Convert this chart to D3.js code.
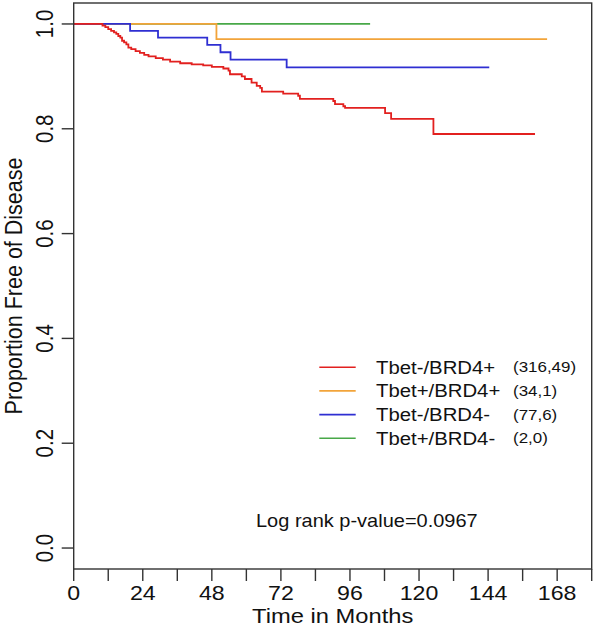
<!DOCTYPE html>
<html><head><meta charset="utf-8">
<script src="https://cdn.jsdelivr.net/npm/d3@7"></script>
<style>html,body{margin:0;padding:0;background:#fff;}svg{display:block;}</style>
</head><body>
<script>
// ---- data ----
const groups = ["Tbet-/BRD4+", "Tbet+/BRD4+", "Tbet-/BRD4-", "Tbet+/BRD4-"];
const counts = ["(316,49)", "(34,1)", "(77,6)", "(2,0)"];
const colors = ["#E2201F", "#F2A43A", "#2F2FD2", "#48A848"];
// step curves: [month, survival after step]; last entry = end of follow-up
const redSteps = [[0,1],[10,0.997],[11,0.994],[12,0.990],[13,0.987],[14,0.984],[14.8,0.981],[15.5,0.977],[16.2,0.974],[16.8,0.968],[17.5,0.965],[18.3,0.961],[19,0.955],[20,0.952],[21.5,0.948],[23,0.945],[24.5,0.941],[26,0.938],[28.5,0.935],[31,0.932],[33.5,0.928],[37,0.925],[41,0.923],[45,0.921],[48,0.918],[52,0.915],[53.8,0.911],[54.3,0.904],[58.4,0.900],[59.5,0.895],[61.8,0.888],[63.6,0.882],[64.8,0.878],[65.4,0.871],[72.8,0.867],[78,0.863],[78.6,0.857],[90.2,0.853],[90.8,0.847],[93.7,0.843],[94.3,0.840],[108.2,0.830],[110.3,0.819],[125,0.790],[160.3,0.790]];
const orangeSteps = [[0,1],[49.6,0.971],[164.5,0.971]];
const blueSteps = [[0,1],[19.6,0.987],[29.3,0.974],[46.4,0.960],[51,0.946],[54.5,0.932],[74,0.917],[144.4,0.917]];
const greenSteps = [[0,1],[103,1]];
const xTicks = d3.range(0, 181, 12);
const xLabels = [0,24,48,72,96,120,144,168];
const yTicks = [0,0.2,0.4,0.6,0.8,1.0];
const pText = "Log rank p-value=0.0967";

const W = 596, H = 629;
const L = 73.7, R = 591.7, T = 3, B = 569;
const SX = 1.13; // horizontal stretch of the reference text
const font = "'Liberation Sans', Arial, Helvetica, sans-serif";

const svg = d3.select("body").append("svg").attr("width", W).attr("height", H);
const x = d3.scaleLinear().domain([0,180]).range([L,R]);
const y = d3.scaleLinear().domain([-0.04,1.04]).range([B,T]);

function txt(g, s, px, py, size, anchor, rot) {
  const t = g.append("g").attr("transform", `translate(${px},${py}) scale(${SX},1)` + (rot ? " rotate(-90)" : ""));
  t.append("text").text(s).attr("font-family", font).attr("font-size", size)
    .attr("text-anchor", anchor).attr("fill", "#111");
  return t;
}

// curves
const line = d3.line().x(d => x(d[0])).y(d => y(d[1])).curve(d3.curveStepAfter);
const all = [redSteps, orangeSteps, blueSteps, greenSteps];
[3,1,2,0].forEach(i => {
  svg.append("path").attr("d", line(all[i])).attr("fill", "none")
    .attr("stroke", colors[i]).attr("stroke-width", 1.8);
});

// box
svg.append("rect").attr("x", L).attr("y", T).attr("width", R-L).attr("height", B-T)
  .attr("fill", "none").attr("stroke", "#333").attr("stroke-width", 1.4);

// x axis
const gx = svg.append("g");
gx.selectAll("line").data(xTicks).enter().append("line")
  .attr("x1", d => x(d)).attr("x2", d => x(d)).attr("y1", B).attr("y2", B+12)
  .attr("stroke", "#333").attr("stroke-width", 1.4);
xLabels.forEach(v => txt(gx, String(v), x(v), 599.5, 20.5, "middle"));
txt(gx, "Time in Months", (L+R)/2, 623, 21, "middle");

// y axis
const gy = svg.append("g");
gy.selectAll("line").data(yTicks).enter().append("line")
  .attr("x1", L-12).attr("x2", L).attr("y1", d => y(d)).attr("y2", d => y(d))
  .attr("stroke", "#333").attr("stroke-width", 1.4);
yTicks.forEach(v => txt(gy, v.toFixed(1), 53, y(v), 20.5, "middle", true));
txt(gy, "Proportion Free of Disease", 21.5, (T+B)/2, 21.5, "middle", true);

// legend
const lg = svg.append("g");
const rowY = [367.2, 390.9, 414.6, 438.3];
groups.forEach((g, i) => {
  lg.append("line").attr("x1", 319.3).attr("x2", 355.7).attr("y1", rowY[i]).attr("y2", rowY[i])
    .attr("stroke", colors[i]).attr("stroke-width", 1.6);
  txt(lg, g, 376, rowY[i] + 6.5, 18, "start");
  txt(lg, counts[i], 513, rowY[i] + 5, 15, "start");
});

// p-value
txt(svg, pText, 256, 527, 17.7, "start");
</script>
</body></html>
